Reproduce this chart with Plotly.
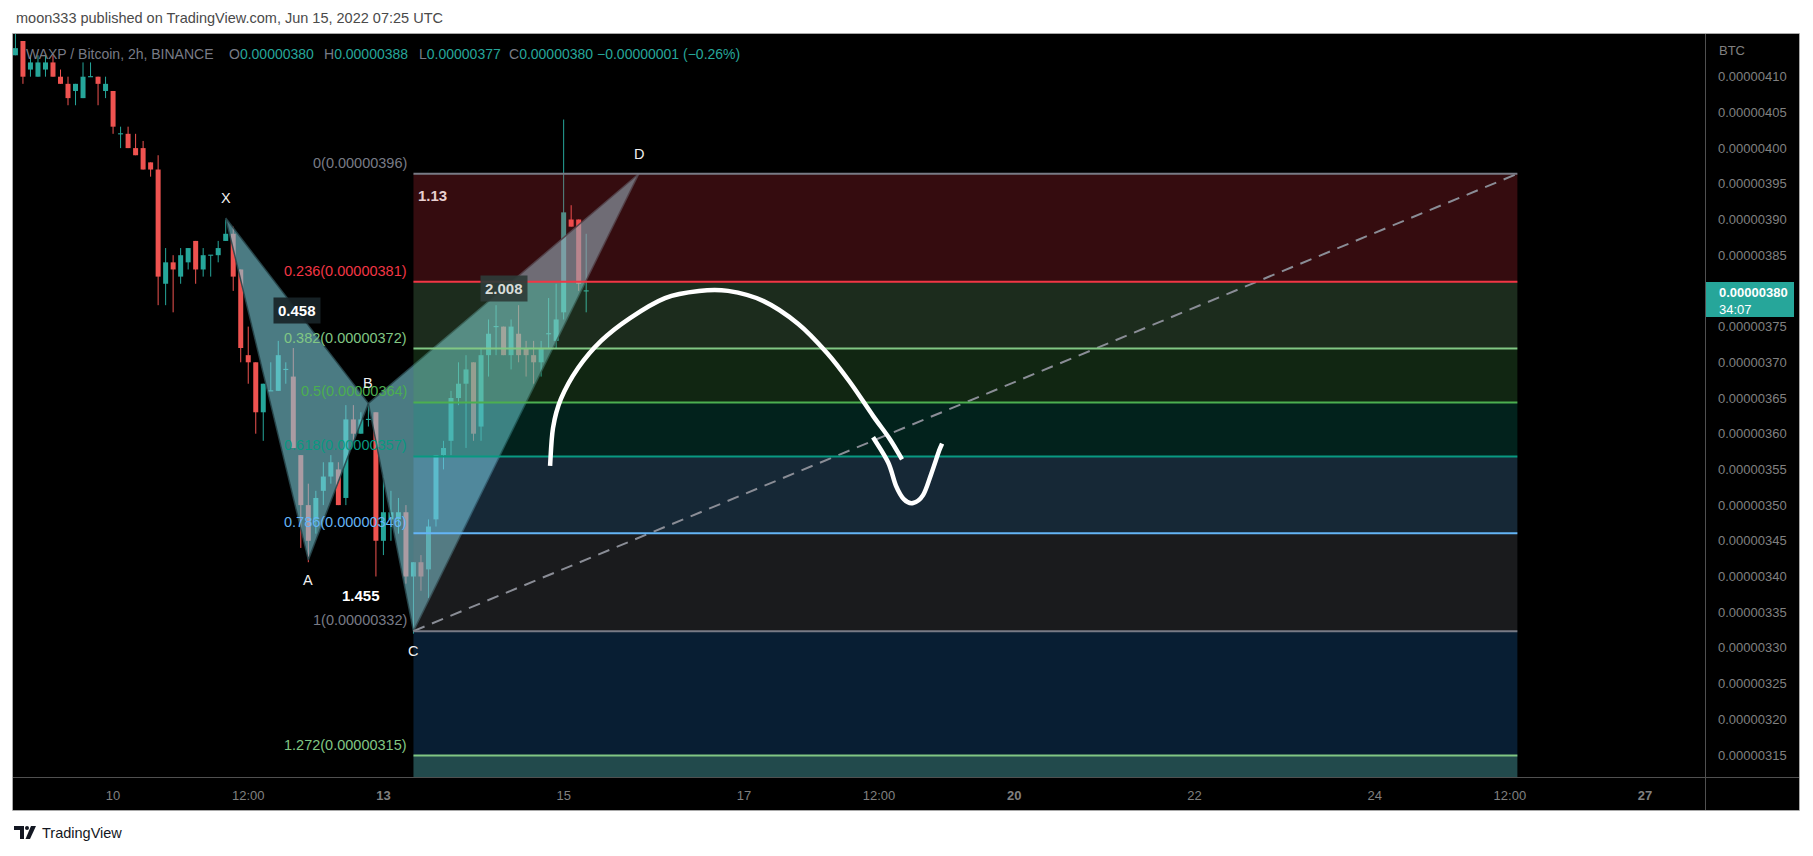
import numpy as np
import pandas as pd
import plotly.graph_objects as go

# ---------------- data ----------------
published_text = "moon333 published on TradingView.com, Jun 15, 2022 07:25 UTC"
symbol_text = "WAXP / Bitcoin, 2h, BINANCE"
ohlc_text = ["O", "0.00000380", "H", "0.00000388", "L", "0.00000377", "C", "0.00000380"]
change_text = "\u22120.00000001 (\u22120.26%)"
last_price = 380          # satoshi
countdown = "34:07"

first_bar = "2022-06-08 22:00"   # 2h bars
opens  = [413,415,411,410,411,412,410,409,408,407,410,410,408,408,402,402,400,400,398,397,
          381,384,382,384,387,383,385,385,387,388,383,371,370,363,366,366,369,368,357,350,
          348,352,354,355,351,362,360,362,363,345,348,348,349,340,342,341,348,357,359,365,
          367,370,361,371,375,375,371,374,372,371,370,374,373,377,390,390,380]
highs  = [417,415,413,413,413,413,411,410,409,412,412,410,410,408,403,403,402,401,398,399,
          386,385,386,386,387,386,385,387,390,389,383,375,370,367,370,373,370,372,357,353,
          352,356,357,356,364,364,363,364,363,354,352,351,350,342,343,348,357,359,366,370,
          371,370,372,376,378,375,376,378,373,373,373,379,381,404,392,390,388]
lows   = [413,409,410,410,410,410,409,406,406,407,410,406,407,402,400,400,399,397,396,378,
          378,377,381,383,381,382,382,384,387,380,370,367,360,359,366,366,367,358,344,342,
          346,350,353,350,350,359,360,361,340,343,345,346,339,332,338,337,347,355,357,364,
          358,359,359,368,371,371,369,370,368,367,368,372,372,376,389,380,377]
closes = [414,410,412,412,412,410,409,407,409,410,410,409,409,403,402,400,399,397,397,382,
          384,383,385,386,383,385,385,386,388,382,372,370,363,367,366,371,369,358,350,345,
          351,354,356,350,362,360,362,362,345,349,349,349,340,342,340,347,357,358,365,367,
          369,360,371,374,375,371,375,371,371,370,372,374,376,391,389,381,380]

# harmonic XABCD pattern
pattern_names  = ["X", "A", "B", "C", "D"]
pattern_times  = ["2022-06-11 06:00", "2022-06-12 04:00", "2022-06-12 20:00",
                  "2022-06-13 08:00", "2022-06-15 20:00"]
pattern_prices = [390.2, 342.33, 364.25, 332.35, 396.4]

# fib retracement
fib_start = "2022-06-13 08:00"
fib_end   = "2022-06-25 14:00"
fib_price_0 = 396.4
fib_price_1 = 332.35
fib_levels = [0, 0.236, 0.382, 0.5, 0.618, 0.786, 1, 1.272, 1.618]
fib_line_colors = ["#787B86", "#F23645", "#81C784", "#4CAF50", "#089981", "#64B5F6",
                   "#787B86", "#81C784", "#3A8F96"]
fib_band_colors = ["#F23645", "#81C784", "#4CAF50", "#089981", "#64B5F6", "#787B86",
                   "#2388E8", "#449498"]
fib_band_alpha = [0.22, 0.22, 0.22, 0.22, 0.22, 0.22, 0.22, 0.5]

# brush strokes (time, price)
brush1_times = ["2022-06-14 20:23", "2022-06-14 21:10", "2022-06-14 23:18", "2022-06-15 03:50",
                "2022-06-15 09:58", "2022-06-15 17:41", "2022-06-16 03:00", "2022-06-16 12:03",
                "2022-06-16 19:47", "2022-06-17 05:07", "2022-06-17 14:25", "2022-06-17 22:09",
                "2022-06-18 04:16", "2022-06-18 10:24", "2022-06-18 14:56", "2022-06-18 18:07"]
brush1_prices = [355.5, 360.8, 364.9, 369.2, 373.0, 376.2, 379.0, 380.0,
                 380.0, 378.6, 375.4, 371.3, 367.2, 362.5, 359.2, 356.4]
brush2_times = ["2022-06-18 10:24", "2022-06-18 14:24", "2022-06-18 16:31", "2022-06-18 18:39",
                "2022-06-18 21:03", "2022-06-18 23:43", "2022-06-19 01:51", "2022-06-19 03:59",
                "2022-06-19 04:47"]
brush2_prices = [359.5, 356.0, 352.7, 350.8, 350.3, 351.4, 354.3, 357.6, 358.6]

# axes
x_tick_times  = ["2022-06-10", "2022-06-11 12:00", "2022-06-13", "2022-06-15", "2022-06-17",
                 "2022-06-18 12:00", "2022-06-20", "2022-06-22", "2022-06-24",
                 "2022-06-25 12:00", "2022-06-27"]
x_tick_labels = ["10", "12:00", "<b>13</b>", "15", "17", "12:00", "<b>20</b>", "22", "24",
                 "12:00", "<b>27</b>"]
y_tick_values = list(range(315, 411, 5))
x_range_times = ["2022-06-08 21:21", "2022-06-27 15:58"]
y_range = [311.92, 415.98]

# ---------------- helpers ----------------
W, H = 1813, 856
PL, PR, PT, PB = 13, 1705, 34, 777
T0 = pd.Timestamp("2022-06-10")


def xd(t):
    return (pd.Timestamp(t) - T0) / pd.Timedelta(days=1)


def px(X):
    return (X - PL) / (PR - PL)


def py(Y):
    return (PB - Y) / (PB - PT)


def rgba(hexc, a):
    h = hexc.lstrip("#")
    return "rgba(%d,%d,%d,%.3f)" % (int(h[0:2], 16), int(h[2:4], 16), int(h[4:6], 16), a)


UP, DOWN = "#26A69A", "#EF5350"
FONT = "Liberation Sans, Arial, sans-serif"
AXIS_GRAY = "#808080"

fig = go.Figure()

# ---------------- candles ----------------
bar_times = pd.date_range(first_bar, periods=len(opens), freq="2h")
xs = np.array([xd(t) for t in bar_times])
o, h_, l, c = (np.array(v, float) for v in (opens, highs, lows, closes))
up = c >= o
body_lo = np.minimum(o, c)
body_h = np.abs(c - o)
doji = body_h < 0.2
body_lo = np.where(doji, body_lo - 0.08, body_lo)
body_h = np.where(doji, 0.16, body_h)
BODY_W = 5.0 / 90.12

for mask, col in ((up, UP), (~up, DOWN)):
    fig.add_trace(go.Bar(x=xs[mask], y=body_h[mask], base=body_lo[mask], width=BODY_W,
                         marker=dict(color=col, line=dict(width=0)), hoverinfo="skip"))
for mask, col in ((up, UP), (~up, DOWN)):
    wx, wy = [], []
    for xi, lo, hi in zip(xs[mask], l[mask], h_[mask]):
        wx += [xi, xi, None]
        wy += [lo, hi, None]
    fig.add_trace(go.Scatter(x=wx, y=wy, mode="lines", line=dict(color=col, width=1),
                             hoverinfo="skip"))

# ---------------- XABCD pattern ----------------
pxs = [xd(t) for t in pattern_times]
pys = pattern_prices
PAT_FILL = "rgba(125,205,218,0.60)"
for idx in ((0, 1, 2, 0), (2, 3, 4, 2)):
    fig.add_trace(go.Scatter(x=[pxs[i] for i in idx], y=[pys[i] for i in idx], mode="lines",
                             fill="toself", fillcolor=PAT_FILL,
                             line=dict(color="rgba(40,70,75,0.9)", width=1.5),
                             hoverinfo="skip"))

shapes = []
annotations = []

# ---------------- fib retracement ----------------
fx0, fx1 = xd(fib_start), xd(fib_end)
rng = fib_price_0 - fib_price_1
lvl_prices = [fib_price_0 - r * rng for r in fib_levels]
for i in range(len(fib_levels) - 1):
    shapes.append(dict(type="rect", xref="x", yref="y", x0=fx0, x1=fx1,
                       y0=lvl_prices[i], y1=lvl_prices[i + 1], layer="above",
                       fillcolor=rgba(fib_band_colors[i], fib_band_alpha[i]),
                       line=dict(width=0)))
shapes.append(dict(type="line", xref="x", yref="y", x0=fx0, y0=fib_price_1, x1=fx1,
                   y1=fib_price_0, layer="above",
                   line=dict(color="#8A8D96", width=2, dash="12px,8px")))
for r, p, col in zip(fib_levels[:-1], lvl_prices[:-1], fib_line_colors[:-1]):
    shapes.append(dict(type="line", xref="x", yref="y", x0=fx0, x1=fx1, y0=p, y1=p,
                       layer="above", line=dict(color=col, width=2)))
    lab = ("%g" % r) + "(" + ("%.8f" % (p * 1e-8)) + ")"
    annotations.append(dict(x=fx0, y=p, xref="x", yref="y", text=lab, showarrow=False,
                            xanchor="right", yanchor="bottom", xshift=-4, yshift=1,
                            font=dict(family=FONT, size=14.5, color=col)))

for nm, xx, yy, sgn in zip(pattern_names, pxs, pys, [1, -1, 1, -1, 1]):
    annotations.append(dict(x=xx, y=yy, xref="x", yref="y", text=nm, showarrow=False,
                            yshift=20 * sgn, font=dict(family=FONT, size=14.5, color="#F0F0F0")))
X_, A_, B_, C_, D_ = range(5)
ratios = [
    ((X_, B_), (pys[B_] - pys[A_]) / (pys[X_] - pys[A_]), "rgba(24,36,40,0.92)", "#FFFFFF"),
    ((A_, C_), (pys[B_] - pys[C_]) / (pys[B_] - pys[A_]), None, "#FFFFFF"),
    ((B_, D_), (pys[D_] - pys[C_]) / (pys[B_] - pys[C_]), "rgba(46,60,56,0.92)", "#D8DCD8"),
    ((X_, D_), (pys[D_] - pys[A_]) / (pys[X_] - pys[A_]), None, "#E8D0D0"),
]
for (i, j), val, bg, fc in ratios:
    txt = ("%.3f" % val).rstrip("0")
    a = dict(x=(pxs[i] + pxs[j]) / 2, y=(pys[i] + pys[j]) / 2, xref="x", yref="y",
             text="<b>" + txt + "</b>", showarrow=False,
             font=dict(family=FONT, size=15, color=fc), borderpad=4)
    if bg:
        a["bgcolor"] = bg
    annotations.append(a)


def smooth_path(ts, ps):
    P = [(xd(t), p) for t, p in zip(ts, ps)]
    s = "M%.5f,%.4f" % P[0]
    for k in range(len(P) - 1):
        p0 = P[k - 1] if k > 0 else P[k]
        p1, p2 = P[k], P[k + 1]
        p3 = P[k + 2] if k + 2 < len(P) else P[k + 1]
        c1 = (p1[0] + (p2[0] - p0[0]) / 6, p1[1] + (p2[1] - p0[1]) / 6)
        c2 = (p2[0] - (p3[0] - p1[0]) / 6, p2[1] - (p3[1] - p1[1]) / 6)
        s += " C%.5f,%.4f %.5f,%.4f %.5f,%.4f" % (c1 + c2 + p2)
    return s


for ts, ps in ((brush1_times, brush1_prices), (brush2_times, brush2_prices)):
    shapes.append(dict(type="path", xref="x", yref="y", path=smooth_path(ts, ps),
                       layer="above", line=dict(color="#FFFFFF", width=4.5)))

# ---------------- chrome ----------------
shapes.append(dict(type="rect", xref="paper", yref="paper", x0=px(PR), x1=px(1799),
                   y0=py(811), y1=py(PT), fillcolor="black", line=dict(width=0), layer="below"))
shapes.append(dict(type="rect", xref="paper", yref="paper", x0=px(PL), x1=px(PR),
                   y0=py(811), y1=py(PB), fillcolor="black", line=dict(width=0), layer="below"))
shapes.append(dict(type="line", xref="paper", yref="paper", x0=px(PR + 0.5), x1=px(PR + 0.5),
                   y0=py(811), y1=py(PT), line=dict(color="#505050", width=1), layer="above"))
shapes.append(dict(type="line", xref="paper", yref="paper", x0=px(PL), x1=px(1799),
                   y0=py(PB + 0.5), y1=py(PB + 0.5), line=dict(color="#505050", width=1),
                   layer="above"))
shapes.append(dict(type="rect", xref="paper", yref="paper", x0=px(12.5), x1=px(1799.5),
                   y0=py(810.5), y1=py(33.5), line=dict(color="#A8A8A8", width=1),
                   fillcolor="rgba(0,0,0,0)", layer="above"))
shapes.append(dict(type="rect", xref="paper", yref="y", x0=px(PR + 1), x1=px(1794),
                   ysizemode="pixel", yanchor=last_price, y0=-26, y1=9,
                   fillcolor=UP, line=dict(width=0), layer="above"))
annotations.append(dict(xref="paper", yref="y", x=px(1717), y=last_price, xanchor="left",
                        yanchor="middle", yshift=-10, align="left", showarrow=False,
                        text="<b>%.8f</b><br>%s" % (last_price * 1e-8, countdown),
                        font=dict(family=FONT, size=13, color="#FFFFFF")))
annotations.append(dict(xref="paper", yref="paper", x=px(1717), y=py(50), xanchor="left",
                        yanchor="middle", showarrow=False, text="BTC",
                        font=dict(family=FONT, size=13, color=AXIS_GRAY)))

annotations.append(dict(xref="paper", yref="paper", x=px(24), y=py(54), xanchor="left",
                        yanchor="middle", showarrow=False, text=symbol_text,
                        font=dict(family=FONT, size=14, color="#787B86")))
leg_x = [227, 322, 417, 507]
for k, xx in enumerate(leg_x):
    annotations.append(dict(xref="paper", yref="paper", x=px(xx), y=py(54), xanchor="left",
                            yanchor="middle", showarrow=False,
                            text="<span style='color:#787B86'>%s</span>%s" % (ohlc_text[2 * k],
                                                                                ohlc_text[2 * k + 1]),
                            font=dict(family=FONT, size=14, color=UP)))
annotations.append(dict(xref="paper", yref="paper", x=px(595), y=py(54), xanchor="left",
                        yanchor="middle", showarrow=False, text=change_text,
                        font=dict(family=FONT, size=14, color=UP)))

annotations.append(dict(xref="paper", yref="paper", x=px(14), y=py(18), xanchor="left",
                        yanchor="middle", showarrow=False, text=published_text,
                        font=dict(family=FONT, size=14.5, color="#4A4A4A")))
annotations.append(dict(xref="paper", yref="paper", x=px(40), y=py(833), xanchor="left",
                        yanchor="middle", showarrow=False, text="TradingView",
                        font=dict(family=FONT, size=14.5, color="#131722")))
logo_T = "M%.5f,%.5f L%.5f,%.5f L%.5f,%.5f L%.5f,%.5f L%.5f,%.5f L%.5f,%.5f Z" % (
    px(14), py(826), px(24), py(826), px(24), py(839), px(20), py(839), px(20), py(830),
    px(14), py(830))
logo_V = "M%.5f,%.5f L%.5f,%.5f L%.5f,%.5f L%.5f,%.5f Z" % (
    px(31), py(826), px(36), py(826), px(30), py(839), px(25.5), py(839))
shapes.append(dict(type="path", xref="paper", yref="paper", path=logo_T, fillcolor="#131722",
                   line=dict(width=0)))
shapes.append(dict(type="path", xref="paper", yref="paper", path=logo_V, fillcolor="#131722",
                   line=dict(width=0)))
shapes.append(dict(type="circle", xref="paper", yref="paper", x0=px(25), x1=px(29),
                   y0=py(830), y1=py(826), fillcolor="#131722", line=dict(width=0)))

fig.update_layout(
    width=W, height=H, margin=dict(l=PL, r=W - PR, t=PT, b=H - PB),
    paper_bgcolor="white", plot_bgcolor="black", showlegend=False, barmode="overlay",
    shapes=shapes, annotations=annotations,
    xaxis=dict(range=[xd(t) for t in x_range_times], showgrid=False, zeroline=False,
               tickvals=[xd(t) for t in x_tick_times], ticktext=x_tick_labels, ticks="",
               tickfont=dict(family=FONT, size=13, color=AXIS_GRAY), ticklabelstandoff=9,
               fixedrange=True),
    yaxis=dict(range=y_range, side="right", showgrid=False, zeroline=False,
               tickvals=y_tick_values, ticktext=["%.8f" % (v * 1e-8) for v in y_tick_values],
               ticks="", tickfont=dict(family=FONT, size=13, color=AXIS_GRAY),
               ticklabelstandoff=12, fixedrange=True),
)

fig.write_html("out.html", config={"displayModeBar": False, "staticPlot": True},
               post_script="document.body.style.margin='0px';"
                           "document.documentElement.style.overflow='hidden';")
